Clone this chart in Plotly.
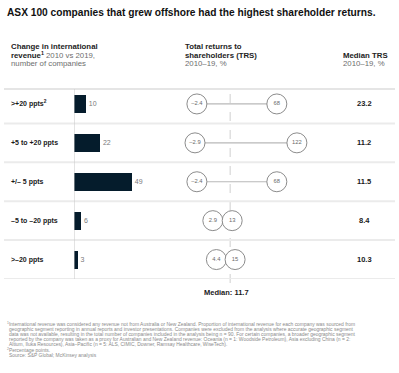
import numpy as np
import plotly.graph_objects as go

# ---------------- data ----------------
title_text = "ASX 100 companies that grew offshore had the highest shareholder returns."
categories = [">+20 ppts<sup>2</sup>", "+5 to +20 ppts", "+/– 5 ppts", "–5 to –20 ppts", ">–20 ppts"]
companies = [10, 22, 49, 6, 3]
trs_low = [-2.4, -2.9, -2.4, 2.9, 4.4]
trs_high = [68, 122, 68, 13, 15]
median_trs = [23.2, 11.2, 11.5, 8.4, 10.3]
overall_median = 11.7
footnotes = [
    "<sup>1</sup>International revenue was considered any revenue not from Australia or New Zealand. Proportion of international revenue for each company was sourced from",
    "geographic segment reporting in annual reports and investor presentations. Companies were excluded from the analysis where accurate geographic segment",
    "data was not available, resulting in the total number of companies included in the analysis being n = 90. For certain companies, a broader geographic segment",
    "reported by the company was taken as a proxy for Australian and New Zealand revenue: Oceania (n = 1: Woodside Petroleum), Asia excluding China (n = 2:",
    "Altium, Iluka Resources), Asia–Pacific (n = 5: ALS, CIMIC, Downer, Ramsay Healthcare, WiseTech).",
    "<sup>2</sup>Percentage points.",
    "Source: S&P Global; McKinsey analysis",
]

# ---------------- layout helpers ----------------
W, H = 399, 373
FONT = "Liberation Sans, Arial, sans-serif"
NAVY = "#051c2c"


def px(x):
    return x / W


def py(y):
    return 1 - y / H


rows = list(range(len(categories)))
OFF = 13  # offset for the compressed (log) TRS scale

fig = go.Figure()

# bars
fig.add_trace(go.Bar(
    x=companies, y=rows, orientation="h", width=0.46,
    marker=dict(color=NAVY, line=dict(width=0)),
    text=[str(c) for c in companies], textposition="outside",
    textfont=dict(size=7, color="#7a7a7a", family=FONT),
    cliponaxis=False, xaxis="x", yaxis="y", hoverinfo="skip",
))

# dumbbell connecting lines
lx, ly = [], []
for i, (a, b) in enumerate(zip(trs_low, trs_high)):
    lx += [a + OFF, b + OFF, None]
    ly += [i, i, None]
fig.add_trace(go.Scatter(
    x=lx, y=ly, mode="lines", line=dict(color="#b8b8b8", width=1.2),
    xaxis="x2", yaxis="y", hoverinfo="skip",
))

# dumbbell circles
cx = [v + OFF for v in trs_low] + [v + OFF for v in trs_high]
cy = rows + rows
ct = [f"{v:g}".replace("-", "–") for v in trs_low] + [f"{v:g}" for v in trs_high]
fig.add_trace(go.Scatter(
    x=cx, y=cy, mode="markers+text", text=ct, textposition="middle center",
    marker=dict(size=20, color="white", line=dict(color="#8c8c8c", width=1)),
    textfont=dict(size=5.8, color="#6a6a6a", family=FONT),
    cliponaxis=False, xaxis="x2", yaxis="y", hoverinfo="skip",
))

shapes = []
# header underline
shapes.append(dict(type="line", xref="paper", yref="paper", x0=px(4), x1=px(395),
                   y0=py(89), y1=py(89), line=dict(color="#dcdcdc", width=1.5)))
# row separators
for i in rows:
    shapes.append(dict(type="line", xref="paper", yref="y", x0=px(4), x1=px(395),
                       y0=i + 0.5, y1=i + 0.5, line=dict(color="#ebebeb", width=2)))
# bar baseline
shapes.append(dict(type="line", xref="x", yref="paper", x0=0, x1=0,
                   y0=py(279), y1=py(89), line=dict(color="#c8c8c8", width=1)))
# median dashed line
shapes.append(dict(type="line", xref="x2", yref="paper", x0=overall_median + OFF,
                   x1=overall_median + OFF, y0=py(283), y1=py(89),
                   line=dict(color="#cfcfcf", width=1, dash="dash"), layer="below"))

ann = []
# title
ann.append(dict(text=title_text, xref="paper", yref="paper", x=px(5), y=py(12),
                xanchor="left", yanchor="middle", showarrow=False,
                font=dict(size=10.2, color="#111111", family=FONT, weight="bold")))


def head(text, x, y, bold=True, anchor="left"):
    ann.append(dict(text=text, xref="paper", yref="paper", x=px(x), y=py(y),
                    xanchor=anchor, yanchor="middle", showarrow=False,
                    font=dict(size=7.8, color="#222222" if bold else "#6e6e6e",
                              family=FONT, weight="bold" if bold else "normal")))


head("Change in international", 9, 47)
head("revenue<sup>1</sup>", 9, 55.5)
head("2010 vs 2019,", 43.5, 55.5, bold=False)
head("number of companies", 9, 63.5, bold=False)
head("Total returns to", 183, 47)
head("shareholders (TRS)", 183, 55.5)
head("2010–19, %", 183, 63.5, bold=False)
head("Median TRS", 341, 55.5)
head("2010–19, %", 341, 63.5, bold=False)

# row labels and median TRS values
for i, (cat, m) in enumerate(zip(categories, median_trs)):
    ann.append(dict(text=cat, xref="paper", yref="y", x=px(9), y=i,
                    xanchor="left", yanchor="middle", showarrow=False,
                    font=dict(size=7, color="#1a1a1a", family=FONT, weight="bold")))
    ann.append(dict(text=f"{m:g}", xref="paper", yref="y", x=px(364), y=i,
                    xanchor="center", yanchor="middle", showarrow=False,
                    font=dict(size=7.5, color="#1a1a1a", family=FONT, weight="bold")))

# median label
ann.append(dict(text=f"Median: {overall_median:g}", xref="x2", yref="paper",
                x=np.log10(overall_median + OFF), y=py(292), xanchor="center", yanchor="middle",
                xshift=-4, showarrow=False,
                font=dict(size=7.5, color="#1a1a1a", family=FONT, weight="bold")))

# footnotes
fy = [324, 329.3, 334.4, 339.5, 344.7, 350, 355.2]
for k, (t, y) in enumerate(zip(footnotes, fy)):
    x0 = 5 if k in (0, 5) else 7
    ann.append(dict(text=t, xref="paper", yref="paper", x=px(x0), y=py(y),
                    xanchor="left", yanchor="middle", showarrow=False,
                    font=dict(size=4.95, color="#8a8a8a", family=FONT)))

lo = np.log10(-2.9 + OFF) - 15 / 90.5
hi = np.log10(-2.9 + OFF) + 125 / 90.5

fig.update_layout(
    width=W, height=H, margin=dict(l=0, r=0, t=0, b=0),
    paper_bgcolor="white", plot_bgcolor="rgba(0,0,0,0)",
    showlegend=False, bargap=0,
    xaxis=dict(domain=[px(74), px(170)], range=[0, 96 / 1.18], visible=False, fixedrange=True),
    xaxis2=dict(domain=[px(180), px(320)], type="log", range=[lo, hi], visible=False,
                anchor="y", fixedrange=True),
    yaxis=dict(domain=[py(279), py(84.5)], range=[4.5, -0.5], visible=False, fixedrange=True),
    shapes=shapes, annotations=ann,
    font=dict(family=FONT),
)

fig.write_html(
    "out.html",
    config={"displayModeBar": False, "staticPlot": True},
    post_script="document.body.style.margin='0';document.body.style.padding='0';",
)
